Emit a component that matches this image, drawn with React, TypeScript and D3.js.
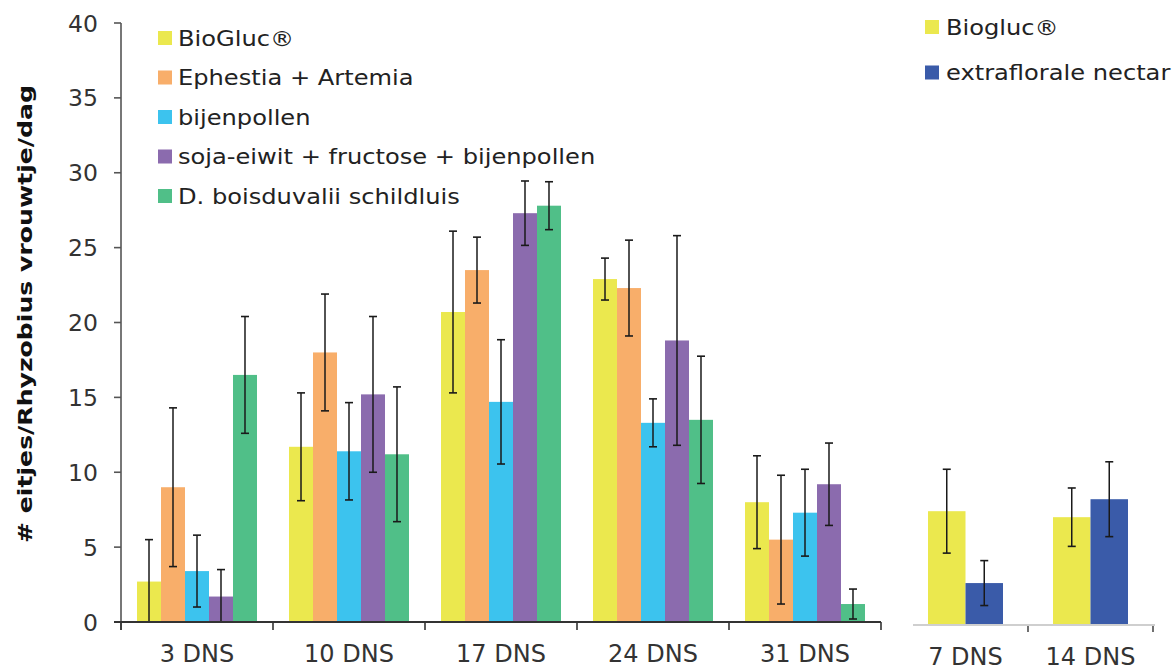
import React from "react";
import * as d3 from "d3";

// ---- Data ----
const leftGroups = ["3 DNS", "10 DNS", "17 DNS", "24 DNS", "31 DNS"];
const leftSeries = [
  "BioGluc®",
  "Ephestia + Artemia",
  "bijenpollen",
  "soja-eiwit + fructose + bijenpollen",
  "D. boisduvalii schildluis",
];
const leftColors = ["#ebe84e", "#f8ae6a", "#3cc3ee", "#8b6bae", "#50bf88"];

const bioGluc = [2.7, 11.7, 20.7, 22.9, 8.0];
const bioGlucErr = [2.8, 3.6, 5.4, 1.4, 3.1];
const ephestia = [9.0, 18.0, 23.5, 22.3, 5.5];
const ephestiaErr = [5.3, 3.9, 2.2, 3.2, 4.3];
const bijenpollen = [3.4, 11.4, 14.7, 13.3, 7.3];
const bijenpollenErr = [2.4, 3.25, 4.15, 1.6, 2.9];
const soja = [1.7, 15.2, 27.3, 18.8, 9.2];
const sojaErr = [1.8, 5.2, 2.15, 7.0, 2.75];
const schildluis = [16.5, 11.2, 27.8, 13.5, 1.2];
const schildluisErr = [3.9, 4.5, 1.6, 4.25, 1.0];

const leftValues = [bioGluc, ephestia, bijenpollen, soja, schildluis];
const leftErrors = [bioGlucErr, ephestiaErr, bijenpollenErr, sojaErr, schildluisErr];

const rightGroups = ["7 DNS", "14 DNS"];
const rightSeries = ["Biogluc®", "extraflorale nectar"];
const rightColors = ["#ebe84e", "#3a5ba9"];
const rightBiogluc = [7.6, 7.2];
const rightBioglucErr = [2.8, 1.95];
const rightNectar = [2.8, 8.4];
const rightNectarErr = [1.5, 2.5];
const rightValues = [rightBiogluc, rightNectar];
const rightErrors = [rightBioglucErr, rightNectarErr];

const yTicks = [0, 5, 10, 15, 20, 25, 30, 35, 40];
const yTitle = "# eitjes/Rhyzobius vrouwtje/dag";

// ---- Layout ----
const W = 1175;
const H = 671;
const FONT = "'DejaVu Sans', Verdana, sans-serif";

export default function App() {
  const yLeft = d3.scaleLinear().domain([0, 40]).range([622, 23]);
  const yRight = d3.scaleLinear().domain([0, 40]).range([625, 26]);

  const xLeft = d3.scaleBand<string>().domain(leftGroups).range([121, 881]).paddingInner(0).paddingOuter(0);
  const xLeftInner = d3
    .scaleBand<string>()
    .domain(leftSeries)
    .range([0, xLeft.bandwidth()])
    .paddingInner(0)
    .paddingOuter(0.667);

  const xRight = d3.scaleBand<string>().domain(rightGroups).range([903, 1153]).paddingInner(0).paddingOuter(0);
  const xRightInner = d3
    .scaleBand<string>()
    .domain(rightSeries)
    .range([0, xRight.bandwidth()])
    .paddingInner(0)
    .paddingOuter(0.667);

  const capHalf = 4;
  const errColor = "#1a1a1a";

  const leftBoundaries = leftGroups.map((g) => xLeft(g)!).concat([xLeft.range()[1]]);
  const rightBoundaries = rightGroups.slice(1).map((g) => xRight(g)!).concat([xRight.range()[1]]);

  const legendRowsLeft = leftSeries.map((s, i) => ({ s, i, cy: 38 + i * 39.5 }));
  const legendRowsRight = rightSeries.map((s, i) => ({ s, i, cy: 27 + i * 45.5 }));

  return (
    <svg width={W} height={H} style={{ position: "absolute", left: 0, top: 0, background: "#fff" }}>
      <rect x={0} y={0} width={W} height={H} fill="#fff" />

      {/* Y axis title */}
      <text
        transform={`translate(32, ${(85 + 543) / 2}) rotate(-90)`}
        textAnchor="middle"
        fontFamily={FONT}
        fontWeight="bold"
        fontSize={20}
        textLength={458}
        lengthAdjust="spacingAndGlyphs"
        fill="#111"
      >
        {yTitle}
      </text>

      {/* Left y axis */}
      <line x1={121} x2={121} y1={yLeft(40)} y2={yLeft(0) + 8} stroke="#555" strokeWidth={1.6} />
      {yTicks.map((t) => (
        <g key={t}>
          <line x1={114} x2={121} y1={yLeft(t)} y2={yLeft(t)} stroke="#555" strokeWidth={1.6} />
          <text x={98} y={yLeft(t) + 8.5} textAnchor="end" fontFamily={FONT} fontSize={23.5} fill="#333">
            {t}
          </text>
        </g>
      ))}

      {/* Left bars */}
      {leftGroups.map((g, gi) => (
        <g key={g} transform={`translate(${xLeft(g)},0)`}>
          {leftSeries.map((s, si) => {
            const v = leftValues[si][gi];
            const e = leftErrors[si][gi];
            const x0 = xLeftInner(s)!;
            const cx = x0 + xLeftInner.bandwidth() / 2;
            const lo = Math.max(0, v - e);
            return (
              <g key={s}>
                <rect
                  x={x0}
                  y={yLeft(v)}
                  width={xLeftInner.bandwidth()}
                  height={yLeft(0) - yLeft(v)}
                  fill={leftColors[si]}
                />
                <line x1={cx} x2={cx} y1={yLeft(v + e)} y2={yLeft(lo)} stroke={errColor} strokeWidth={1.5} />
                <line x1={cx - capHalf} x2={cx + capHalf} y1={yLeft(v + e)} y2={yLeft(v + e)} stroke={errColor} strokeWidth={1.6} />
                <line x1={cx - capHalf} x2={cx + capHalf} y1={yLeft(lo)} y2={yLeft(lo)} stroke={errColor} strokeWidth={1.6} />
              </g>
            );
          })}
        </g>
      ))}

      {/* Left x axis */}
      <line x1={114} x2={881} y1={yLeft(0)} y2={yLeft(0)} stroke="#333" strokeWidth={1.8} />
      {leftBoundaries.map((b, i) => (
        <line key={i} x1={b} x2={b} y1={yLeft(0)} y2={yLeft(0) + 8} stroke="#333" strokeWidth={1.6} />
      ))}
      {leftGroups.map((g) => (
        <text
          key={g}
          x={xLeft(g)! + xLeft.bandwidth() / 2}
          y={661.5}
          textAnchor="middle"
          fontFamily={FONT}
          fontSize={24}
          fill="#333"
        >
          {g}
        </text>
      ))}

      {/* Right bars */}
      {rightGroups.map((g, gi) => (
        <g key={g} transform={`translate(${xRight(g)},0)`}>
          {rightSeries.map((s, si) => {
            const v = rightValues[si][gi];
            const e = rightErrors[si][gi];
            const x0 = xRightInner(s)!;
            const cx = x0 + xRightInner.bandwidth() / 2;
            return (
              <g key={s}>
                <rect
                  x={x0}
                  y={yRight(v)}
                  width={xRightInner.bandwidth()}
                  height={yRight(0) - yRight(v)}
                  fill={rightColors[si]}
                />
                <line x1={cx} x2={cx} y1={yRight(v + e)} y2={yRight(v - e)} stroke={errColor} strokeWidth={1.5} />
                <line x1={cx - capHalf} x2={cx + capHalf} y1={yRight(v + e)} y2={yRight(v + e)} stroke={errColor} strokeWidth={1.6} />
                <line x1={cx - capHalf} x2={cx + capHalf} y1={yRight(v - e)} y2={yRight(v - e)} stroke={errColor} strokeWidth={1.6} />
              </g>
            );
          })}
        </g>
      ))}

      {/* Right x axis */}
      <line x1={913} x2={1155} y1={yRight(0)} y2={yRight(0)} stroke="#cfcfcf" strokeWidth={2} />
      {rightBoundaries.map((b, i) => (
        <line key={i} x1={b} x2={b} y1={yRight(0) + 1} y2={yRight(0) + 7} stroke="#333" strokeWidth={1.4} />
      ))}
      {rightGroups.map((g) => (
        <text
          key={g}
          x={xRight(g)! + xRight.bandwidth() / 2}
          y={665}
          textAnchor="middle"
          fontFamily={FONT}
          fontSize={24}
          fill="#333"
        >
          {g}
        </text>
      ))}

      {/* Left legend */}
      {legendRowsLeft.map(({ s, i, cy }) => (
        <g key={s}>
          <rect x={158} y={cy - 7} width={14} height={14} fill={leftColors[i]} />
          <text
            transform={`translate(178, ${cy + 7.6}) scale(1.15, 1)`}
            fontFamily={FONT}
            fontSize={21}
            fill="#222"
          >
            {s}
          </text>
        </g>
      ))}

      {/* Right legend */}
      {legendRowsRight.map(({ s, i, cy }) => (
        <g key={s}>
          <rect x={925} y={cy - 7} width={14} height={14} fill={rightColors[i]} />
          <text
            transform={`translate(946, ${cy + 7.6}) scale(1.15, 1)`}
            fontFamily={FONT}
            fontSize={21}
            fill="#222"
          >
            {s}
          </text>
        </g>
      ))}
    </svg>
  );
}
